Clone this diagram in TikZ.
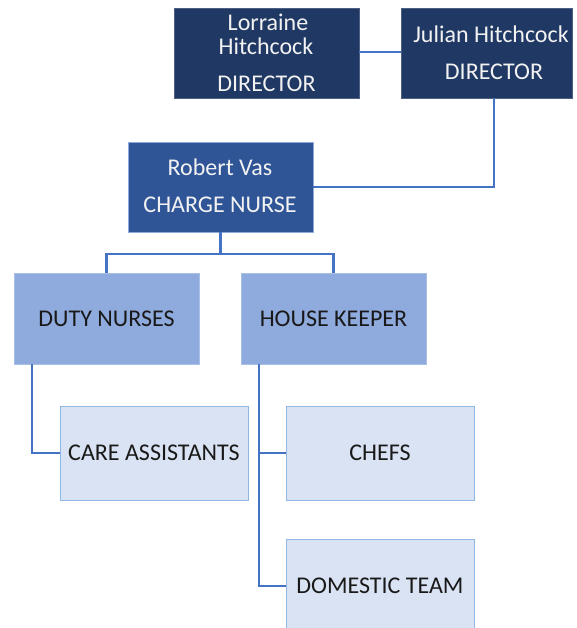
\documentclass[tikz,border=0pt]{standalone}
\usepackage{fontspec}
\setmainfont{Carlito}
\definecolor{navy}{HTML}{203864}
\definecolor{midblue}{HTML}{2F5597}
\definecolor{lvltwo}{HTML}{8FAADC}
\definecolor{lvltwoedge}{HTML}{A9BFE6}
\definecolor{lvlthree}{HTML}{DAE3F3}
\definecolor{lvlthreeedge}{HTML}{8FB8E6}
\definecolor{connblue}{HTML}{4472C4}
\definecolor{lighttext}{HTML}{F2F2F2}
\begin{document}
\begin{tikzpicture}[x=1pt,y=-1pt,
  every node/.style={font=\fontsize{24}{28.8}\selectfont},
  darkbox/.style={draw=navy!80!white, line width=0.6pt, fill=navy, inner sep=0pt, outer sep=0pt},
  robbox/.style={draw=lvltwo, line width=0.8pt, fill=midblue, inner sep=0pt, outer sep=0pt, minimum width=185pt, minimum height=90pt},
  twobox/.style={draw=lvltwoedge, line width=0.8pt, fill=lvltwo, text=black!90, inner sep=0pt, outer sep=0pt, minimum width=185pt, minimum height=91pt},
  threebox/.style={draw=lvlthreeedge, line width=1pt, fill=lvlthree, text=black!90, inner sep=0pt, outer sep=0pt, minimum width=188pt, minimum height=94pt},
  wtext/.style={text=lighttext, inner sep=0pt, anchor=base},
  conn/.style={draw=connblue, line width=2.5pt}]
\useasboundingbox (0,0) rectangle (576,628);
\clip (0,0) rectangle (576,628);
\fill[white] (0,0) rectangle (576,628);
% boxes
\node[darkbox, minimum width=185pt, minimum height=90pt] (L) at (266.5,53) {};
\node[darkbox, minimum width=171pt, minimum height=90pt] (J) at (486.5,53) {};
\node[robbox] (R) at (220.5,187) {};
\node[twobox] (D) at (106.5,318.5) {DUTY NURSES};
\node[twobox] (H) at (333.5,318.5) {HOUSE KEEPER};
\node[threebox] (Ca) at (154,453) {CARE ASSISTANTS};
\node[threebox] (Ch) at (380,453) {CHEFS};
\node[threebox] (Do) at (380,586) {DOMESTIC TEAM};
% texts in dark boxes
\node[wtext] (l1) at (268,31) {Lorraine};
\node[wtext] (l2) at (266,55) {Hitchcock};
\node[wtext] (l3) at (266.5,92) {DIRECTOR};
\node[wtext] (j1) at (491,43) {Julian Hitchcock};
\node[wtext] (j2) at (494,80) {DIRECTOR};
\node[wtext] (r1) at (220,176) {Robert Vas};
\node[wtext] (r2) at (220,212) {CHARGE NURSE};
% connectors
\coordinate (lj) at (0,52);
\draw[conn] (L.east |- lj) -- (J.west |- lj);
\coordinate (jr) at (494,187);
\draw[conn] (J.south -| jr) -- (jr) -- (R.east);
\coordinate (rb) at (0,254);
\draw[conn] (R.south) -- (R.south |- rb) -| (D.north);
\draw[conn] (R.south |- rb) -| (H.north);
\coordinate (dx) at (32,0);
\draw[conn] (D.south -| dx) |- (Ca.west);
\coordinate (hx) at (259,0);
\draw[conn] (H.south -| hx) |- (Ch.west);
\draw[conn] (H.south -| hx) |- (Do.west);
\end{tikzpicture}
\end{document}
